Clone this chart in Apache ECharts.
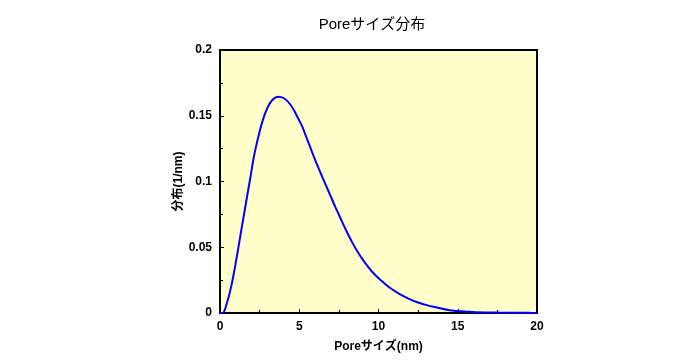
<!DOCTYPE html>
<html>
<head>
<meta charset="utf-8">
<script src="https://cdn.jsdelivr.net/npm/echarts@6/dist/echarts.min.js"></script>
<style>
html,body{margin:0;padding:0;background:#fff;}
#c{width:680px;height:360px;}
</style>
</head>
<body>
<div id="c"></div>
<script>
var titleText = 'Poreサイズ分布';
var xName = 'Poreサイズ(nm)';
var yName = '分布(1/nm)';
var poreSize = [0, 0.15, 0.43, 0.75, 1.06, 1.38, 1.70, 1.93, 2.14, 2.40, 2.67, 2.98, 3.30, 3.66, 4.04, 4.46, 4.88, 5.19, 5.47, 5.82, 6.25, 6.67, 6.98, 7.30, 7.51, 7.93, 8.35, 8.77, 9.19, 9.61, 10.14, 10.63, 11.26, 11.89, 12.5, 13.1, 13.7, 14.4, 15.0, 15.7, 16.3, 17.6, 19.5, 20];
var distribution = [0, 0, 0.0074, 0.0226, 0.0428, 0.0656, 0.088, 0.104, 0.119, 0.1330, 0.1455, 0.1557, 0.1620, 0.1645, 0.1633, 0.1582, 0.1493, 0.1417, 0.1330, 0.1220, 0.1092, 0.0975, 0.0888, 0.0800, 0.0745, 0.0635, 0.0535, 0.0448, 0.0375, 0.0312, 0.0250, 0.0200, 0.0150, 0.0110, 0.0080, 0.0058, 0.0042, 0.0023, 0.0015, 0.0010, 0.0005, 0.0003, 0.0001, 0];

var data = poreSize.map(function (x, i) { return [x, distribution[i]]; });
var chart = echarts.init(document.getElementById('c'));
var font = 'Arial, "Noto Sans CJK JP", sans-serif';
chart.setOption({
  animation: false,
  title: {
    text: titleText, left: 367, top: 12, textAlign: 'center',
    textStyle: { fontSize: 15, fontWeight: 'normal', color: '#000', fontFamily: font }
  },
  grid: {
    left: 220, right: 143, top: 50, bottom: 47,
    show: true, backgroundColor: '#FFFFCC', borderColor: '#000', borderWidth: 2
  },
  xAxis: {
    type: 'value', min: 0, max: 20, interval: 5,
    name: xName, nameLocation: 'middle', nameGap: 28,
    nameTextStyle: { fontSize: 12, fontWeight: 'bold', color: '#000', fontFamily: font },
    axisLine: { lineStyle: { color: '#000', width: 2 } },
    axisTick: { inside: true, length: 4, lineStyle: { color: '#000' } },
    minorTick: { show: true, splitNumber: 2, length: 3, lineStyle: { color: '#000' } },
    splitLine: { show: false },
    axisLabel: { fontSize: 12, fontWeight: 'bold', color: '#000', margin: 8, fontFamily: font }
  },
  yAxis: {
    type: 'value', min: 0, max: 0.2, interval: 0.05,
    name: yName, nameLocation: 'middle', nameGap: 30, nameRotate: 90,
    nameTextStyle: { fontSize: 12, fontWeight: 'bold', color: '#000', fontFamily: font },
    axisLine: { show: true, lineStyle: { color: '#000', width: 2 } },
    axisTick: { show: true, inside: true, length: 4, lineStyle: { color: '#000' } },
    minorTick: { show: true, splitNumber: 2, length: 3, lineStyle: { color: '#000' } },
    splitLine: { show: false },
    axisLabel: { fontSize: 12, fontWeight: 'bold', color: '#000', margin: 8, fontFamily: font }
  },
  series: [{
    type: 'line', data: data, smooth: 0.4, showSymbol: false, clip: true,
    lineStyle: { color: '#0000FF', width: 2 }
  }]
});
</script>
</body>
</html>
